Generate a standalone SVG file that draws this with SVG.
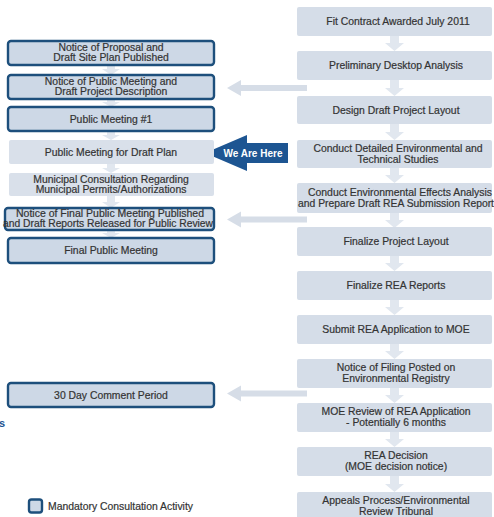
<svg xmlns="http://www.w3.org/2000/svg" width="494" height="517" viewBox="0 0 494 517">
<style>
text{font-family:"Liberation Sans",Arial,sans-serif;font-size:10.4px;fill:#333;stroke:#333;stroke-width:0.2;text-anchor:middle}
.rb{fill:#d5dde8}
.lb{fill:#d9e0ea}
.mb{fill:#cdd8e6;stroke:#1d4f7c;stroke-width:2.4}
.va{fill:#e1e7ef}
.ha{fill:#d6dde7}
</style>
<rect width="494" height="517" fill="#fff"/>
<g id="connectors">
<path class="va" d="M390,36h9v7h5l-9.5,8l-9.5,-8h5z"/>
<path class="va" d="M390,80h9v8h5l-9.5,8l-9.5,-8h5z"/>
<path class="va" d="M390,124h9v8h5l-9.5,8l-9.5,-8h5z"/>
<path class="va" d="M390,168h9v7h5l-9.5,8l-9.5,-8h5z"/>
<path class="va" d="M390,213h9v7h5l-9.5,8l-9.5,-8h5z"/>
<path class="va" d="M390,256h9v7h5l-9.5,8l-9.5,-8h5z"/>
<path class="va" d="M390,300h9v7h5l-9.5,8l-9.5,-8h5z"/>
<path class="va" d="M390,344h9v7h5l-9.5,8l-9.5,-8h5z"/>
<path class="va" d="M390,388h9v7h5l-9.5,8l-9.5,-8h5z"/>
<path class="va" d="M390,432h9v7h5l-9.5,8l-9.5,-8h5z"/>
<path class="va" d="M390,476h9v8h5l-9.5,8l-9.5,-8h5z"/>
<path class="va" d="M107,65h8v4h5l-9,6l-9,-6h5z"/>
<path class="va" d="M107,99h8v3h5l-9,5l-9,-5h5z"/>
<path class="va" d="M107,131h8v4h5l-9,5l-9,-5h5z"/>
<path class="va" d="M107,164h8v4h5l-9,5l-9,-5h5z"/>
<path class="va" d="M107,196h8v6h5l-9,6l-9,-6h5z"/>
<path class="va" d="M107,230h8v3h5l-9,5l-9,-5h5z"/>
<path class="ha" d="M307,85v6h-66v5l-14,-8l14,-8v5z"/>
<path class="ha" d="M307,216.5v6h-66v5l-14,-8l14,-8v5z"/>
<path class="ha" d="M307,390.5v6h-66v5l-14,-8l14,-8v5z"/>
</g>
<g id="we-are-here">
<path d="M205,153l42,-18v8h41v20h-41v8z" fill="#1d5592"/>
<text x="253" y="157" style="fill:#fff;stroke:none;font-weight:bold;font-size:10px">We Are Here</text>
</g>
<g id="r1"><rect class="rb" x="297" y="7" width="195" height="29" rx="2"/><text x="398" y="25">Fit Contract Awarded July 2011</text></g>
<g id="r2"><rect class="rb" x="297" y="51" width="195" height="29" rx="2"/><text x="396" y="69">Preliminary Desktop Analysis</text></g>
<g id="r3"><rect class="rb" x="297" y="96" width="195" height="28" rx="2"/><text x="396" y="113.5">Design Draft Project Layout</text></g>
<g id="r4"><rect class="rb" x="297" y="140" width="195" height="28" rx="2"/><text x="398" y="151.5">Conduct Detailed Environmental and</text><text x="398" y="162.5">Technical Studies</text></g>
<g id="r5"><rect class="rb" x="297" y="183" width="195" height="30" rx="2"/><text x="400" y="195.5" textLength="184" lengthAdjust="spacingAndGlyphs">Conduct Environmental Effects Analysis</text><text x="396" y="206.5" textLength="196" lengthAdjust="spacingAndGlyphs">and Prepare Draft REA Submission Report</text></g>
<g id="r6"><rect class="rb" x="297" y="227" width="195" height="29" rx="2"/><text x="396" y="245">Finalize Project Layout</text></g>
<g id="r7"><rect class="rb" x="297" y="271" width="195" height="29" rx="2"/><text x="396" y="289">Finalize REA Reports</text></g>
<g id="r8"><rect class="rb" x="297" y="315" width="195" height="29" rx="2"/><text x="396" y="333">Submit REA Application to MOE</text></g>
<g id="r9"><rect class="rb" x="297" y="359" width="195" height="29" rx="2"/><text x="396" y="371">Notice of Filing Posted on</text><text x="396" y="382">Environmental Registry</text></g>
<g id="r10"><rect class="rb" x="297" y="403" width="195" height="29" rx="2"/><text x="396" y="415">MOE Review of REA Application</text><text x="396" y="426">- Potentially 6 months</text></g>
<g id="r11"><rect class="rb" x="297" y="447" width="195" height="29" rx="2"/><text x="396" y="459">REA Decision</text><text x="396" y="470">(MOE decision notice)</text></g>
<g id="r12"><rect class="rb" x="297" y="492" width="195" height="29" rx="2"/><text x="396" y="503.5">Appeals Process/Environmental</text><text x="396" y="514.5">Review Tribunal</text></g>
<g id="l1"><rect class="mb" x="8" y="41" width="206" height="24" rx="3"/><text x="111" y="50.5">Notice of Proposal and</text><text x="111" y="61">Draft Site Plan Published</text></g>
<g id="l2"><rect class="mb" x="8" y="75" width="206" height="24" rx="3"/><text x="111" y="84.5">Notice of Public Meeting and</text><text x="111" y="95">Draft Project Description</text></g>
<g id="l3"><rect class="mb" x="8" y="107" width="206" height="24" rx="3"/><text x="111" y="122.5">Public Meeting #1</text></g>
<g id="l4"><rect class="lb" x="9" y="140" width="205" height="24" rx="2"/><text x="111" y="155.5">Public Meeting for Draft Plan</text></g>
<g id="l5"><rect class="lb" x="9" y="173" width="205" height="23" rx="2"/><text x="111" y="182.5">Municipal Consultation Regarding</text><text x="111" y="193">Municipal Permits/Authorizations</text></g>
<g id="l6"><rect class="mb" x="5" y="208" width="209" height="22" rx="3"/><text x="110" y="216.5" textLength="188" lengthAdjust="spacingAndGlyphs">Notice of Final Public Meeting Published</text><text x="108" y="227" textLength="210" lengthAdjust="spacingAndGlyphs">and Draft Reports Released for Public Review</text></g>
<g id="l7"><rect class="mb" x="8" y="238" width="206" height="25" rx="3"/><text x="111" y="254">Final Public Meeting</text></g>
<g id="l8"><rect class="mb" x="8" y="383" width="206" height="24" rx="3"/><text x="111" y="398.5">30 Day Comment Period</text></g>
<text x="-1" y="427" style="fill:#1d5592;stroke:none;font-weight:bold;font-size:11px;text-anchor:start">s</text>
<g id="legend"><rect class="mb" x="29" y="499.5" width="13" height="13" rx="2.5"/><text x="48" y="509.5" style="text-anchor:start">Mandatory Consultation Activity</text></g>
</svg>
